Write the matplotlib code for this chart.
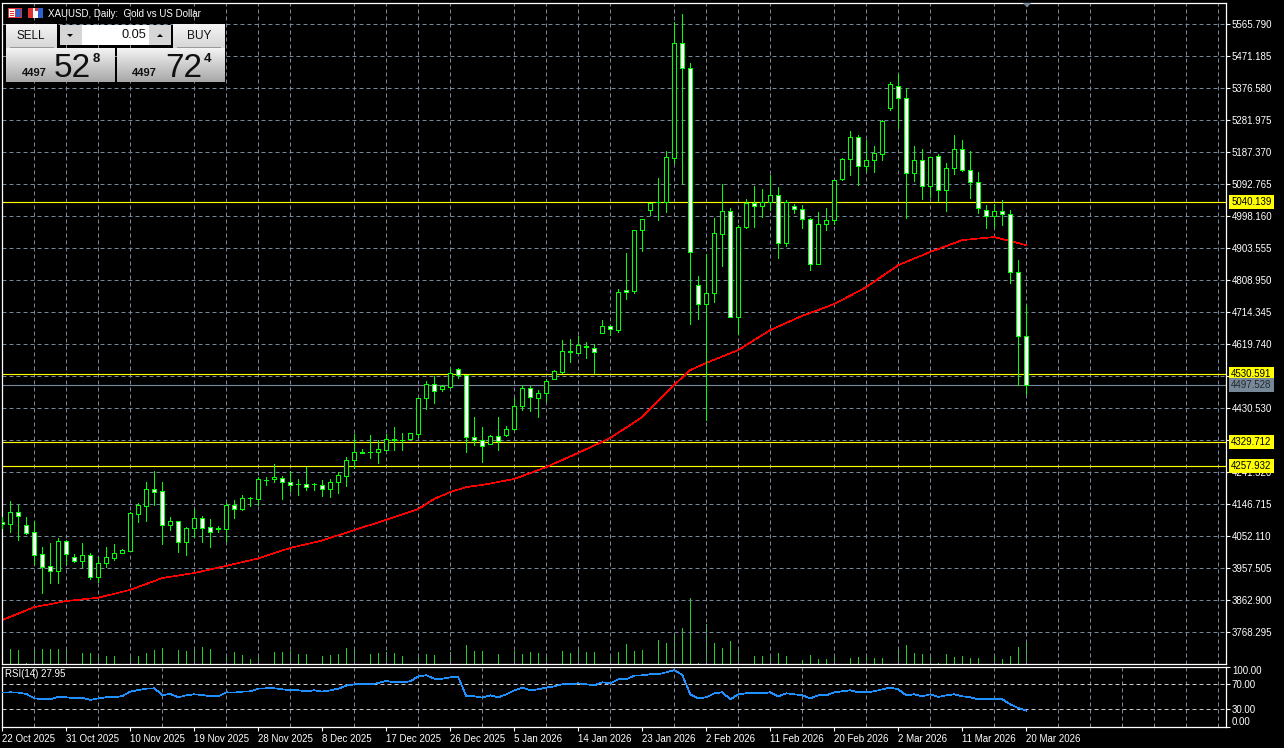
#!/usr/bin/env python3

import matplotlib
matplotlib.use("Agg")
import matplotlib.pyplot as plt
import numpy as np
from matplotlib.patches import Polygon, Rectangle

# daily candles
OPEN = [4093, 4087, 4122, 4084, 4063, 3998, 3963, 3950, 4037, 3989,
        3979, 3995, 3932, 3971, 3988, 4003, 4009, 4118, 4142, 4190,
        4184, 4084, 4096, 4036, 4075, 4105, 4078, 4075, 4074, 4143,
        4133, 4165, 4163, 4217, 4220, 4225, 4211, 4206, 4205, 4206,
        4202, 4192, 4211, 4231, 4276, 4302, 4302, 4302, 4307, 4338,
        4337, 4339, 4355, 4459, 4503, 4486, 4494, 4545, 4527, 4344,
        4337, 4325, 4347, 4351, 4369, 4437, 4491, 4461, 4474, 4517,
        4538, 4598, 4594, 4613, 4609, 4653, 4672, 4662, 4779, 4777,
        4958, 5017, 5040, 5040, 5171, 5511, 5437, 4793, 4739, 4771,
        4946, 5012, 4701, 4967, 5037, 5029, 5041, 5059, 4919, 5027,
        5018, 4988, 4857, 4976, 4985, 5108, 5166, 5233, 5145, 5163,
        5182, 5318, 5383, 5346, 5124, 5163, 5086, 5177, 5074, 5139,
        5195, 5133, 5098, 5015, 4997, 5012, 5003, 4834, 4642]
HIGH = [4109, 4156, 4144, 4109, 4098, 4020, 4032, 4045, 4041, 3999,
        4032, 4002, 3991, 4020, 4029, 4014, 4124, 4149, 4211, 4244,
        4211, 4107, 4098, 4080, 4131, 4111, 4102, 4081, 4149, 4159,
        4174, 4168, 4228, 4227, 4265, 4230, 4245, 4221, 4257, 4208,
        4218, 4221, 4240, 4285, 4354, 4308, 4350, 4335, 4353, 4373,
        4357, 4356, 4461, 4510, 4524, 4500, 4548, 4548, 4529, 4403,
        4373, 4350, 4403, 4376, 4459, 4500, 4495, 4484, 4515, 4543,
        4632, 4635, 4643, 4626, 4620, 4691, 4676, 4781, 4889, 4958,
        4988, 5038, 5110, 5190, 5572, 5595, 5449, 4821, 4886, 4991,
        5093, 5021, 4971, 5047, 5087, 5077, 5119, 5084, 5045, 5033,
        5030, 4991, 5010, 5021, 5105, 5171, 5249, 5237, 5223, 5205,
        5281, 5394, 5418, 5378, 5205, 5196, 5174, 5180, 5155, 5237,
        5223, 5190, 5128, 5030, 5035, 5045, 5015, 4868, 4734]
LOW = [4075, 4064, 4040, 4058, 3970, 3884, 3913, 3913, 3970, 3975,
       3960, 3925, 3917, 3960, 3981, 4002, 4009, 4095, 4098, 4144,
       4028, 4070, 4005, 3996, 4048, 4035, 4020, 4064, 4038, 4106,
       4129, 4141, 4143, 4203, 4212, 4162, 4185, 4173, 4188, 4188,
       4171, 4168, 4179, 4200, 4253, 4297, 4283, 4268, 4306, 4306,
       4306, 4338, 4346, 4428, 4445, 4482, 4492, 4520, 4301, 4321,
       4271, 4324, 4306, 4348, 4366, 4425, 4422, 4404, 4451, 4515,
       4534, 4566, 4592, 4578, 4534, 4653, 4646, 4655, 4753, 4770,
       4896, 5001, 4986, 5010, 5155, 5093, 4679, 4694, 4395, 4744,
       4850, 4701, 4648, 4963, 4965, 4994, 5016, 4874, 4909, 5007,
       4963, 4838, 4857, 4957, 4976, 5105, 5119, 5090, 5132, 5129,
       5163, 5311, 5257, 4992, 5101, 5048, 5055, 5042, 5013, 5122,
       5131, 5051, 5007, 4963, 4966, 4971, 4800, 4498, 4471]
CLOSE = [4087, 4122, 4112, 4062, 3997, 3962, 3950, 4037, 4000, 3979,
         3995, 3932, 3972, 3989, 4001, 4010, 4119, 4143, 4190, 4183,
         4084, 4096, 4036, 4075, 4105, 4077, 4065, 4073, 4143, 4133,
         4164, 4164, 4220, 4217, 4226, 4211, 4204, 4206, 4198, 4206,
         4192, 4211, 4232, 4276, 4300, 4298, 4301, 4308, 4338, 4335,
         4336, 4356, 4459, 4503, 4480, 4495, 4533, 4529, 4344, 4337,
         4317, 4347, 4332, 4370, 4438, 4491, 4462, 4474, 4509, 4539,
         4598, 4595, 4616, 4610, 4595, 4672, 4663, 4775, 4774, 4958,
         4988, 5038, 5040, 5172, 5511, 5437, 4891, 4739, 4772, 4947,
         5012, 4701, 4967, 5036, 5029, 5041, 5059, 4919, 5041, 5018,
         4988, 4857, 4976, 4985, 5104, 5166, 5233, 5145, 5163, 5183,
         5278, 5387, 5346, 5124, 5163, 5086, 5174, 5074, 5139, 5195,
         5133, 5098, 5021, 4997, 5012, 5003, 4834, 4642, 4497.528]

# moving average, read every few bars
MA_BARS = [0, 4, 8, 12, 16, 20, 24, 28, 32, 36, 40, 44, 48, 52, 54, 56, 58, 60, 64,
           68, 72, 76, 80, 84, 86, 88, 92, 96, 100, 104, 108, 112, 116, 120, 124, 128]
MA_VALUES = [3804, 3842, 3860, 3870, 3893, 3928, 3943, 3964, 3986, 4017, 4039,
             4070, 4100, 4132, 4162, 4182, 4197, 4203, 4221, 4256, 4298, 4342,
             4404, 4499, 4543, 4564, 4602, 4661, 4703, 4738, 4788, 4853, 4892,
             4927, 4936, 4912]

# tick volume, hundreds
VOLUME = [0, 15, 14, 1, 16, 15, 15, 15, 14, 0,
          11, 11, 8, 8, 8, 0, 9, 8, 11, 14,
          16, 0, 14, 13, 14, 17, 15, 0, 10, 12,
          9, 5, 8, 0, 12, 12, 13, 10, 10, 0,
          8, 9, 10, 16, 14, 0, 10, 11, 12, 11,
          8, 0, 8, 10, 9, 0, 12, 0, 19, 13,
          13, 0, 10, 0, 13, 10, 12, 11, 10, 0,
          13, 11, 14, 12, 12, 0, 8, 12, 20, 13,
          14, 0, 24, 21, 31, 36, 66, 1, 40, 21,
          16, 23, 14, 0, 8, 8, 8, 11, 8, 0,
          4, 9, 5, 5, 8, 0, 6, 7, 8, 6,
          6, 0, 14, 19, 11, 10, 8, 1, 10, 7,
          8, 6, 6, 0, 8, 5, 8, 17, 21]

RSI = [56.7, 57.2, 56.7, 54.5, 47.6, 46, 46, 50.3, 49.2, 47.6,
       48.7, 44.9, 47.6, 49.2, 49.2, 51.3, 58.3, 60.9, 63, 63.6,
       52.9, 54.5, 49.2, 52.4, 54, 52.9, 50.8, 50.8, 57.2, 56.7,
       58.3, 58.8, 63, 63.6, 63.6, 62, 60.4, 60.4, 58.8, 60.4,
       58.3, 60.4, 63, 67.9, 70, 70, 70, 72.1, 75.3, 73.2,
       73.2, 74.8, 82.8, 84.4, 79, 79, 81.2, 81.2, 50.8, 50.8,
       48.7, 52.4, 49.2, 54, 60.4, 64.7, 60.4, 62, 64.7, 66.8,
       70, 70, 71.6, 70, 68.4, 73.2, 71.6, 78, 78, 83.9,
       84.4, 86, 86, 89.2, 92.9, 84.9, 54, 47.6, 49.2, 55.6,
       57.2, 46, 54, 55.6, 55.6, 55.6, 57.2, 50.8, 55.6, 54,
       52.4, 47.6, 52.4, 52.4, 57.2, 58.8, 60.4, 57.2, 57.2, 58.8,
       62, 64.7, 62, 52.4, 54, 50.8, 54, 49.7, 52.4, 54,
       50.8, 49.2, 46, 46, 46, 46, 38, 32.1, 27.95]

PRICE_TICKS = [3768.295, 3862.900, 3957.505, 4052.110, 4146.715, 4241.320,
               4335.925, 4430.530, 4525.135, 4619.740, 4714.345, 4808.950,
               4903.555, 4998.160, 5092.765, 5187.370, 5281.975, 5376.580,
               5471.185, 5565.790]
LEVELS = [5040.139, 4530.591, 4329.712, 4257.932]
LAST_PRICE = 4497.528

DATE_BARS = list(range(0, 129, 8))
DATE_LABELS = ["22 Oct 2025", "31 Oct 2025", "10 Nov 2025", "19 Nov 2025",
               "28 Nov 2025", "8 Dec 2025", "17 Dec 2025", "26 Dec 2025",
               "5 Jan 2026", "14 Jan 2026", "23 Jan 2026", "2 Feb 2026",
               "11 Feb 2026", "20 Feb 2026", "2 Mar 2026", "11 Mar 2026",
               "20 Mar 2026"]

RSI_TICKS = [98.5, 70, 30, 1.2]
RSI_LABELS = ["100.00", "70.00", "30.00", "0.00"]

W, H = 1284, 748
GRID = "#778899"
GREEN = "#00ff00"

plt.rcParams["font.family"] = ["Liberation Sans"]
plt.rcParams["font.size"] = 7.0


def px_axes(left, top, right, bottom):
    return fig.add_axes([left / W, 1 - bottom / H, (right - left) / W, (bottom - top) / H])


def gradient(x0, y0, x1, y1, c0, c1):
    ui.imshow(np.linspace(c0, c1, 32)[:, None], extent=(x0, x1, y1, y0), cmap="gray",
              vmin=0, vmax=1, aspect="auto", zorder=2)


def box(x0, y0, x1, y1, color, zorder=3):
    ui.add_patch(Rectangle((x0, y0), x1 - x0, y1 - y0, fc=color, ec="none", zorder=zorder))


fig = plt.figure(figsize=(W / 100, H / 100), dpi=100, facecolor="black")

ax = px_axes(2.3, 2.5, 1226.3, 664)
ax_rsi = px_axes(2.3, 666.5, 1226.3, 727.3)

# volume sits behind the price axis, in its own scale
ax_vol = ax.twinx()
ax_vol.set_ylim(0, 661.5)
ax_vol.set_yticks([])
ax_vol.set_zorder(0)
ax_vol.set_facecolor("black")
ax.set_zorder(1)
ax.patch.set_visible(False)
for s in ax_vol.spines.values():
    s.set_visible(False)

for a in (ax, ax_rsi):
    a.set_xlim(0, 153)
    for s in a.spines.values():
        s.set_color("white")
        s.set_linewidth(0.9)
    a.set_xticks(range(0, 153, 4), minor=True)
    a.grid(True, which="minor", axis="x", color=GRID, lw=0.72, ls=(0, (4, 3)))
    a.tick_params(axis="x", which="minor", length=0)
    a.yaxis.tick_right()
    a.tick_params(axis="y", colors="white", length=3.2, width=0.8, pad=0.8)
ax_rsi.set_facecolor("black")

bars = np.arange(len(OPEN))
ax_vol.vlines(bars, 0, VOLUME, color="#1fd11f", lw=0.72, antialiased=False)

ax.set_ylim(3673.9, 5629.3)
ax.set_yticks(PRICE_TICKS)
ax.set_yticklabels([f"{v:.3f}" for v in PRICE_TICKS])
ax.grid(True, axis="y", color=GRID, lw=0.72, ls=(0, (4, 3)))
ax.set_axisbelow(True)
ax.tick_params(axis="x", which="major", length=0, labelbottom=False)

ax.axhline(LAST_PRICE, color=GRID, lw=0.8, zorder=2.1)
for level in LEVELS:
    ax.axhline(level, color="yellow", lw=0.85, zorder=2.1)

ax.plot(MA_BARS, MA_VALUES, color="red", lw=0.45, zorder=2.2, antialiased=False)

ax.vlines(bars, LOW, HIGH, color=GREEN, lw=0.72, zorder=3, antialiased=False)
opens = np.array(OPEN, dtype=float)
closes = np.array(CLOSE, dtype=float)
ax.bar(bars, closes - opens, bottom=opens, width=0.5,
       color=["white" if c < o else "black" for o, c in zip(opens, closes)],
       edgecolor=GREEN, lw=0.72, zorder=4, antialiased=False)

for level in LEVELS + [LAST_PRICE]:
    yellow = level != LAST_PRICE
    ax.annotate(f"{level:.3f}", xy=(1, level), xycoords=ax.get_yaxis_transform(),
                xytext=(5, 0), textcoords="offset pixels", va="center", ha="left",
                color="black" if yellow else "#22282e", annotation_clip=False, zorder=9,
                bbox=dict(boxstyle="square,pad=0.2", fc="yellow" if yellow else GRID, ec="none"))

ax_rsi.set_ylim(1.2, 98.5)
ax_rsi.axhline(70, color="#c8c8c8", lw=0.72, ls=(0, (4, 3)))
ax_rsi.axhline(30, color="#c8c8c8", lw=0.72, ls=(0, (4, 3)))
ax_rsi.plot(bars, RSI, color="#1e90ff", lw=0.5, zorder=3, antialiased=False)
ax_rsi.set_yticks(RSI_TICKS)
ax_rsi.set_yticklabels(RSI_LABELS)
rsi_labels = ax_rsi.get_yticklabels()
rsi_labels[0].set_va("top")
rsi_labels[3].set_va("bottom")
ax_rsi.set_xticks(DATE_BARS)
ax_rsi.set_xticklabels(DATE_LABELS, ha="left")
ax_rsi.tick_params(axis="x", which="major", colors="white", length=3, width=0.8, pad=1.5)
ax_rsi.text(0.0022, 0.88, "RSI(14) 27.95", transform=ax_rsi.transAxes, color="white", va="center")

# header and trade panel, drawn in pixels over everything
ui = fig.add_axes([0, 0, 1, 1], zorder=5)
ui.patch.set_visible(False)
ui.axis("off")

ui.text(48, 13.5, "XAUUSD, Daily:  Gold vs US Dollar", color="white", va="center", size=7)
box(8, 8, 22, 18, "#e03030")
box(9, 9, 15, 17, "white")
box(16, 9, 21, 17, "#3060d0")
for yy in (11, 13, 15):
    box(10, yy, 14, yy + 0.8, "#e03030", zorder=4)
box(28, 8, 43, 18, "white")
box(28, 8, 33, 18, "#e03030")
box(38, 8, 43, 18, "#3060d0")
box(35, 8, 38, 11, "#e03030")

gradient(6, 24, 57, 48, 0.96, 0.84)
gradient(173, 24, 225, 48, 0.96, 0.84)
box(10, 47, 54, 48, "#9a9a9a")
box(177, 47, 221, 48, "#9a9a9a")
box(60, 25, 82, 45, "#d6d6d6")
box(82, 25, 149, 45, "white")
box(149, 25, 171, 45, "#d6d6d6")
ui.add_patch(Polygon([(67, 34), (73, 34), (70, 37)], fc="black", ec="none", zorder=4))
ui.add_patch(Polygon([(157, 37), (163, 37), (160, 34)], fc="black", ec="none", zorder=4))
gradient(6, 48, 115, 82, 0.95, 0.66)
gradient(117, 48, 225, 82, 0.95, 0.66)

ui.text(31, 35.5, "SELL", color="#101010", ha="center", va="center", size=8.4, zorder=6)
ui.text(199, 35.5, "BUY", color="#101010", ha="center", va="center", size=8.6, zorder=6)
ui.text(146, 35, "0.05", color="#101010", ha="right", va="center", size=9.2, zorder=6)

for xs, xb, big, xp, small in [(22, 54, "52", 93, "8"), (132, 165, "72", 204, "4")]:
    ui.text(xs, 76, "4497", color="#101010", ha="left", va="baseline", size=8, weight="bold", zorder=6)
    ui.text(xb, 77, big, color="#101010", ha="left", va="baseline", size=24, zorder=6)
    ui.text(xp, 62, small, color="#101010", ha="left", va="baseline", size=9.5, weight="bold", zorder=6)

# little shift marker at the top of the chart
ui.add_patch(Polygon([(1023, 3), (1031, 3), (1027, 7.5)], fc=GRID, ec="none", zorder=6))

ui.set_xlim(0, W)
ui.set_ylim(H, 0)

fig.savefig("out.png", dpi=100, facecolor="black")
